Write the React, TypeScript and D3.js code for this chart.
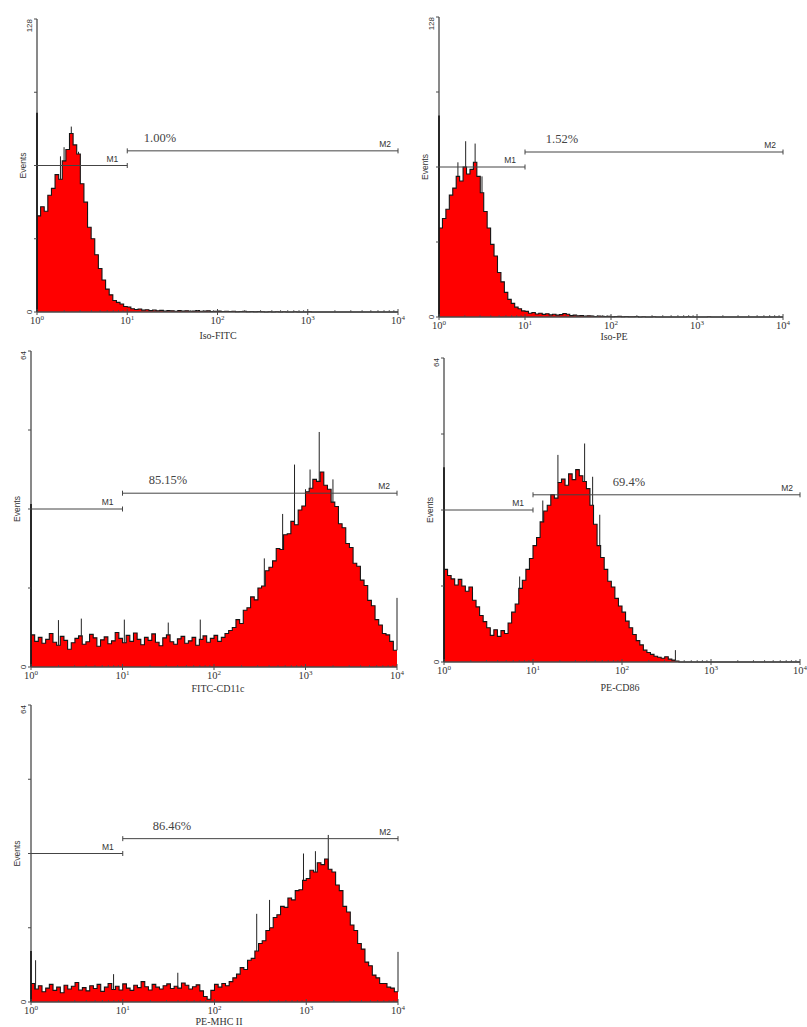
import React from 'react';
import * as d3 from 'd3';

// Histogram bin counts: 100 bins, equally spaced in log10 from 10^0 to 10^4
const ISO_FITC = [
  42, 46, 44, 51, 54, 60, 58, 66, 71, 78,
  73, 69, 56, 48, 37, 32, 25, 19, 14, 10,
  7.5, 5, 4.2, 3.5, 2.4, 2.2, 1.4, 1.1, 1.3, 0.8,
  1.0, 0.6, 0.9, 0.5, 0.7, 0.4, 0.6, 0.5, 0.3, 0.6,
  0.4, 0.5, 0.3, 0.4, 0.6, 0.3, 0.4, 0.5, 0.2, 0.3,
  0.4, 0.2, 0.3, 0.2, 0.3, 0.1, 0.2, 0.3, 0.1, 0.2,
  0.1, 0.2, 0.1, 0, 0.1, 0, 0.1, 0, 0.1, 0,
  0, 0.1, 0, 0, 0, 0.1, 0, 0, 0, 0,
  0, 0, 0, 0, 0, 0, 0, 0, 0, 0,
  0, 0, 0, 0, 0, 0, 0, 0, 0, 0,
];
const ISO_PE = [
  38, 42, 46, 52, 55, 60, 58, 64, 61, 63,
  66, 60, 53, 45, 38, 31, 26, 19, 15, 10.5,
  7.5, 5.8, 4.2, 3.5, 2.6, 2.4, 1.6, 1.9, 1.3, 1.6,
  1.1, 1.4, 0.9, 1.2, 0.8, 1.0, 1.5, 1.2, 0.6, 0.8,
  0.5, 0.6, 0.3, 0.5, 0.4, 0.2, 0.4, 0.3, 0.2, 0.3,
  0.1, 0.2, 0.3, 0.1, 0.2, 0.1, 0.1, 0.2, 0, 0.1,
  0, 0, 0.1, 0, 0, 0, 0, 0, 0, 0,
  0, 0, 0.1, 0, 0, 0, 0, 0, 0.1, 0,
  0, 0, 0, 0, 0, 0, 0, 0, 0, 0,
  0, 0, 0, 0, 0, 0, 0, 0, 0, 0,
];
const FITC_CD11C = [
  6.5, 5.2, 6.0, 4.8, 5.6, 6.8, 5.0, 4.4, 6.2, 5.4,
  3.6, 4.9, 5.8, 6.3, 4.6, 5.1, 6.6, 5.9, 4.2, 5.5,
  6.1, 4.7, 5.3, 7.0, 5.8, 4.9, 6.4, 5.2, 6.9, 5.6,
  4.5, 6.0, 5.4, 6.7, 5.0, 4.3, 5.9, 6.5, 5.1, 4.6,
  5.7, 6.2, 4.8, 5.3, 6.0, 4.4, 5.6, 6.3, 5.0, 5.8,
  6.4, 5.2, 6.0, 6.8, 7.4, 8.0, 9.6, 8.8, 11.5, 12.0,
  14.2, 13.6, 16.0, 16.4, 19.5, 20.2, 21.5, 24.0, 23.8, 26.8,
  27.0, 29.5, 28.8, 31.8, 32.6, 35.5, 36.2, 38.0, 37.6, 39.5,
  36.8, 36.0, 33.4, 32.5, 29.0, 28.2, 25.0, 24.2, 21.0, 20.4,
  17.6, 16.5, 13.5, 12.4, 9.6, 8.5, 6.8, 6.5, 5.2, 3.4,
];
const PE_CD86 = [
  19.5, 18.2, 17.5, 16.2, 17.4, 16.0, 14.9, 15.8, 13.0, 11.6,
  9.8, 8.5, 7.2, 5.6, 6.8, 5.4, 6.6, 6.0, 8.2, 10.5,
  12.2, 15.5, 17.2, 19.5, 21.8, 24.5, 26.2, 29.5, 31.8, 33.0,
  35.2, 34.5, 37.8, 38.5, 37.2, 39.6, 38.4, 40.5, 39.2, 38.0,
  36.5, 33.0, 29.0, 24.5, 22.0, 19.5, 17.0, 15.8, 13.4, 11.8,
  10.5, 8.6, 7.2, 5.8, 4.5, 3.6, 2.5, 2.0, 1.6, 1.2,
  1.0, 0.8, 1.1, 0.6, 0.4, 0.2, 0, 0, 0, 0,
  0, 0, 0, 0, 0, 0, 0, 0, 0, 0,
  0, 0, 0, 0, 0, 0, 0, 0, 0, 0,
  0, 0, 0, 0, 0, 0, 0, 0, 0, 0,
];
const PE_MHCII = [
  4.0, 2.8, 3.5, 2.2, 3.0, 3.8, 2.5, 3.2, 2.0, 3.6,
  2.8, 3.4, 4.2, 2.6, 3.1, 2.4, 3.5, 2.9, 3.8, 2.3,
  3.2, 4.0, 2.7, 3.4, 2.6, 3.9, 3.0, 2.5, 3.6, 3.1,
  4.4, 3.3, 2.6, 3.8, 3.2, 2.8, 3.5, 3.9, 2.9, 3.4,
  3.0, 4.1, 3.6, 2.8, 3.3, 3.7, 2.4, 1.2, 0.6, 2.5,
  3.8, 3.2, 4.0, 3.5, 4.4, 5.2, 6.0, 7.4, 7.0, 9.0,
  9.4, 11.0, 12.6, 13.2, 15.4, 16.0, 18.2, 18.8, 20.6, 20.4,
  22.4, 22.0, 24.0, 24.2, 26.2, 26.6, 28.4, 28.0, 30.0, 29.6,
  30.8, 28.6, 28.0, 25.2, 24.0, 20.6, 19.4, 16.6, 15.4, 12.6,
  11.4, 8.6, 7.8, 5.8, 5.2, 4.0, 4.0, 3.2, 3.0, 2.2,
];

// Single-channel spikes: [log10 position, count]
const ISO_FITC_SPIKES = [[0.38, 81], [0.46, 70], [0.26, 68], [0.3, 72]];
const ISO_PE_SPIKES = [[0.31, 75], [0.42, 74], [0.22, 66], [0.5, 60]];
const FITC_CD11C_SPIKES = [[0.3, 9.5], [0.55, 9.8], [1.02, 9.6], [1.5, 9.0], [1.85, 9.6], [2.55, 22], [2.75, 31], [2.88, 41], [3.0, 36], [3.05, 40], [3.15, 47.6], [3.3, 38], [4.0, 14]];
const PE_CD86_SPIKES = [[0.85, 18], [1.11, 34], [1.28, 43.6], [1.58, 46], [1.67, 39], [1.75, 31], [2.6, 2.5]];
const PE_MHCII_SPIKES = [[0.05, 9], [0.9, 6], [1.6, 6.3], [2.46, 19], [2.6, 22], [2.97, 32], [3.1, 32.5], [3.24, 36], [4.0, 10.8]];

// First-channel counts drawn on the y axis
const AXIS_SPIKES = [87, 86, 33, 41, 11];

const Y_MAX = [128, 128, 64, 64, 64];
const X_LABELS = ['Iso-FITC', 'Iso-PE', 'FITC-CD11c', 'PE-CD86', 'PE-MHC II'];
const PERCENTS = ['1.00%', '1.52%', '85.15%', '69.4%', '86.46%'];
const GATE_M1 = [1, 10];
const GATE_M2 = [10, 10000];
const DECADES = [1, 10, 100, 1000, 10000];
const DECADE_EXP = ['0', '1', '2', '3', '4'];

const SERIES = [ISO_FITC, ISO_PE, FITC_CD11C, PE_CD86, PE_MHCII];
const SPIKES = [ISO_FITC_SPIKES, ISO_PE_SPIKES, FITC_CD11C_SPIKES, PE_CD86_SPIKES, PE_MHCII_SPIKES];

// layout (pixel frames)
const FRAMES = [
  { x0: 37, x1: 398, yTop: 19, yBase: 312, labelY: 339, labelX: 218, pctX: 160 },
  { x0: 439, x1: 783, yTop: 17, yBase: 317, labelY: 340, labelX: 614, pctX: 562 },
  { x0: 31, x1: 397, yTop: 351, yBase: 667, labelY: 692, labelX: 218, pctX: 168 },
  { x0: 444, x1: 800, yTop: 358, yBase: 662, labelY: 691, labelX: 620, pctX: 629 },
  { x0: 31, x1: 398, yTop: 705, yBase: 1002, labelY: 1025, labelX: 219, pctX: 172 },
];

const SERIF = '"Liberation Serif", "Times New Roman", serif';
const SANS = '"Liberation Sans", Arial, sans-serif';
const AXIS = '#4a4a4a';

function Panel({ idx }: { idx: number }) {
  const f = FRAMES[idx];
  const data = SERIES[idx];
  const max = Y_MAX[idx];
  const x = d3.scaleLog().domain([1, 1e4]).range([f.x0, f.x1]);
  const y = d3.scaleLinear().domain([0, max]).range([f.yBase, f.yTop]);
  const n = data.length;
  const pts = data.map((v, i) => ({ e: Math.pow(10, (i * 4) / n), v: Math.min(v, max) }));
  pts.push({ e: 1e4, v: pts[n - 1].v });
  const area = d3
    .area<any>()
    .x((d) => x(d.e))
    .y0(f.yBase)
    .y1((d) => y(d.v))
    .curve(d3.curveStepAfter);
  const line = d3
    .line<any>()
    .x((d) => x(d.e))
    .y((d) => y(d.v))
    .curve(d3.curveStepAfter);

  const minor: number[] = [];
  for (let k = 0; k < 4; k++) for (let m = 2; m < 10; m++) minor.push(m * Math.pow(10, k));
  const yTicks = d3.range(0, 5).map((q) => (q * max) / 4);

  const m1y = y(max * 0.5);
  const m2y = y(max * 0.55);
  const midY = (f.yTop + f.yBase) / 2;

  return (
    <g>
      <path d={area(pts) || ''} fill="#ff0000" stroke="none" />
      <path d={line(pts) || ''} fill="none" stroke="#151515" strokeWidth={1.1} />
      {SPIKES[idx].map(([lg, v], i) => {
        const bin = Math.min(n - 1, Math.floor((lg / 4) * n));
        return (
          <line key={i} x1={x(Math.pow(10, lg))} x2={x(Math.pow(10, lg))} y1={y(Math.min(data[bin], v))} y2={y(v)} stroke="#222" strokeWidth={1} />
        );
      })}
      {/* y axis */}
      <line x1={f.x0} x2={f.x0} y1={f.yBase} y2={f.yTop} stroke={AXIS} strokeWidth={1.3} />
      <line x1={f.x0} x2={f.x0} y1={f.yBase} y2={y(AXIS_SPIKES[idx])} stroke="#111" strokeWidth={1.6} />
      {yTicks.map((t, i) => (
        <line key={i} x1={f.x0 - 3} x2={f.x0} y1={y(t)} y2={y(t)} stroke={AXIS} strokeWidth={1} />
      ))}
      <text transform={`translate(${f.x0 - 5},${f.yTop}) rotate(-90)`} fontFamily={SANS} fontSize={8} fill="#333" textAnchor="end">
        {max}
      </text>
      <text transform={`translate(${f.x0 - 5},${f.yBase}) rotate(-90)`} fontFamily={SANS} fontSize={8} fill="#333" textAnchor="middle">
        0
      </text>
      <text transform={`translate(${f.x0 - 11},${midY}) rotate(-90)`} fontFamily={SANS} fontSize={8.5} fill="#333" textAnchor="middle">
        Events
      </text>
      {/* x axis */}
      <line x1={f.x0} x2={f.x1} y1={f.yBase} y2={f.yBase} stroke={AXIS} strokeWidth={1.3} />
      {minor.map((m, i) => (
        <line key={i} x1={x(m)} x2={x(m)} y1={f.yBase - 2} y2={f.yBase} stroke={AXIS} strokeWidth={0.8} />
      ))}
      {DECADES.map((d, i) => (
        <g key={i}>
          <line x1={x(d)} x2={x(d)} y1={f.yBase - 3} y2={f.yBase + 3} stroke={AXIS} strokeWidth={1} />
          <text x={x(d)} y={f.yBase + 12} fontFamily={SERIF} fontSize={10.5} fill="#333" textAnchor="middle">
            10
            <tspan fontSize={7} dy={-4}>
              {DECADE_EXP[i]}
            </tspan>
          </text>
        </g>
      ))}
      <text x={f.labelX} y={f.labelY} fontFamily={SERIF} fontSize={10} fill="#333" textAnchor="middle">
        {X_LABELS[idx]}
      </text>
      {/* gates */}
      <g stroke="#444" strokeWidth={1}>
        <line x1={x(GATE_M1[0])} x2={x(GATE_M1[1])} y1={m1y} y2={m1y} />
        <line x1={x(GATE_M1[1])} x2={x(GATE_M1[1])} y1={m1y - 2.5} y2={m1y + 2.5} />
        <line x1={x(GATE_M2[0])} x2={x(GATE_M2[1])} y1={m2y} y2={m2y} />
        <line x1={x(GATE_M2[0])} x2={x(GATE_M2[0])} y1={m2y - 2.5} y2={m2y + 2.5} />
        <line x1={x(GATE_M2[1])} x2={x(GATE_M2[1])} y1={m2y - 2.5} y2={m2y + 2.5} />
      </g>
      <text x={x(GATE_M1[1]) - 9} y={m1y - 4} fontFamily={SANS} fontSize={8.5} fill="#333" textAnchor="end">
        M1
      </text>
      <text x={x(GATE_M2[1]) - 7} y={m2y - 4} fontFamily={SANS} fontSize={8.5} fill="#333" textAnchor="end">
        M2
      </text>
      <text x={f.pctX} y={m2y - 9} fontFamily={SERIF} fontSize={12.5} fill="#444" textAnchor="middle">
        {PERCENTS[idx]}
      </text>
    </g>
  );
}

export default function App() {
  return (
    <svg width={807} height={1027} style={{ position: 'absolute', left: 0, top: 0, background: '#fff' }}>
      <rect width={807} height={1027} fill="#fff" />
      {SERIES.map((_, i) => (
        <Panel key={i} idx={i} />
      ))}
    </svg>
  );
}
